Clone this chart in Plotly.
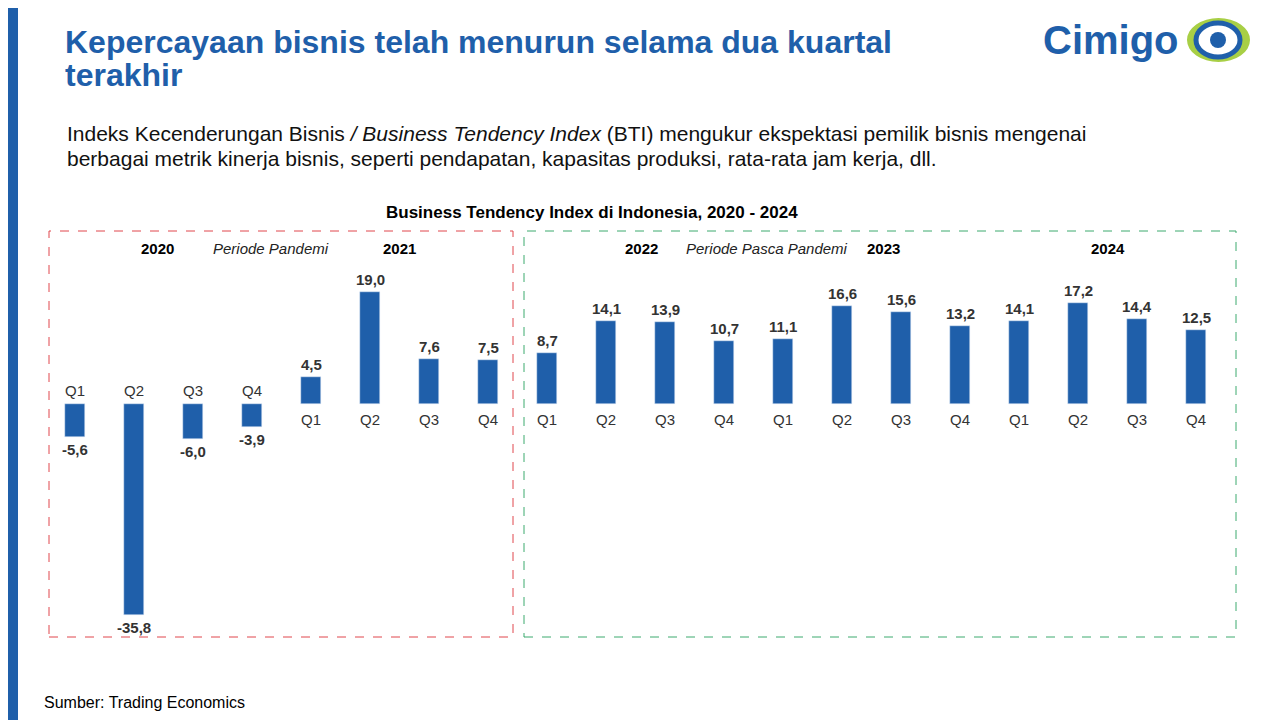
import plotly.graph_objects as go

quarters = ["Q1","Q2","Q3","Q4"]*5
values = [-5.6,-35.8,-6.0,-3.9,4.5,19.0,7.6,7.5,8.7,14.1,13.9,10.7,11.1,16.6,15.6,13.2,14.1,17.2,14.4,12.5]
years = ["2020","2021","2022","2023","2024"]
year_pos = [1.4, 5.5, 9.6, 13.7, 17.5]

BLUE = "#1F5FAA"
W, H = 1280, 720
OFF = 8
def px(x): return (x - OFF) / W
def py(y): return 1 - (y - OFF) / H

X0 = 75 - OFF
Y0 = 404 - OFF
idx = list(range(len(values)))
fig = go.Figure(go.Bar(x=idx, y=values, marker_color=BLUE, width=0.34, hoverinfo="skip"))

F = "Liberation Sans"
ann = []
for i, v in enumerate(values):
    t = "<b>" + f"{v:.1f}".replace(".", ",") + "</b>"
    pos = v >= 0
    ann.append(dict(x=i, y=v, yref="y", xref="x", text=t, yanchor="bottom" if pos else "top",
                    yshift=2 if pos else -2, showarrow=False, font=dict(size=15, color="#333", family=F)))
    ann.append(dict(x=i, y=0, yref="y", xref="x", text=quarters[i], yanchor="top" if pos else "bottom",
                    yshift=-5 if pos else 3, showarrow=False, font=dict(size=15, color="#333", family=F)))

def txt(x, y, s, size, color="#000", xanchor="left"):
    ann.append(dict(x=px(x), y=py(y), xref="paper", yref="paper", text=s, showarrow=False,
                    xanchor=xanchor, yanchor="middle", align="left",
                    font=dict(size=size, color=color, family=F)))

txt(63, 42, "<b>Kepercayaan bisnis telah menurun selama dua kuartal</b>", 32, BLUE)
txt(63, 75, "<b>terakhir</b>", 32, BLUE)
txt(65, 133, "Indeks Kecenderungan Bisnis <i>/ Business Tendency Index</i> (BTI) mengukur ekspektasi pemilik bisnis mengenai", 21, "#111")
txt(65, 158, "berbagai metrik kinerja bisnis, seperti pendapatan, kapasitas produksi, rata-rata jam kerja, dll.", 21, "#111")
txt(592, 212, "<b>Business Tendency Index di Indonesia, 2020 - 2024</b>", 17, "#000", xanchor="center")
for yr, p in zip(years, year_pos):
    txt(75 + 59 * p, 249, "<b>" + yr + "</b>", 15, "#000", xanchor="center")
txt(271, 249, "<i>Periode Pandemi</i>", 15, "#222", xanchor="center")
txt(767, 249, "<i>Periode Pasca Pandemi</i>", 15, "#222", xanchor="center")
txt(42, 702, "Sumber: Trading Economics", 16, "#000")
txt(1041, 40, "<b>Cimigo</b>", 40, BLUE)

shapes = [
    dict(type="rect", xref="paper", yref="paper", x0=0, x1=px(18), y0=0, y1=1, fillcolor=BLUE, line_width=0),
    dict(type="rect", xref="paper", yref="paper", x0=px(49), x1=px(513), y0=py(637), y1=py(231),
         line=dict(color="#E0474C", width=1, dash="dash")),
    dict(type="rect", xref="paper", yref="paper", x0=px(524), x1=px(1236), y0=py(637), y1=py(231),
         line=dict(color="#3DAA6E", width=1, dash="dash")),
    dict(type="circle", xref="paper", yref="paper", x0=px(1187), x1=px(1250), y0=py(62), y1=py(18),
         fillcolor="#A8CF45", line_width=0),
    dict(type="circle", xref="paper", yref="paper", x0=px(1196), x1=px(1240), y0=py(57), y1=py(23),
         fillcolor="white", line=dict(color=BLUE, width=5)),
    dict(type="circle", xref="paper", yref="paper", x0=px(1210), x1=px(1226), y0=py(48), y1=py(32),
         fillcolor=BLUE, line_width=0),
]

fig.update_layout(
    width=W, height=H, margin=dict(l=0, r=0, t=0, b=0),
    paper_bgcolor="white", plot_bgcolor="white", showlegend=False,
    xaxis=dict(range=[-X0/59, (W-X0)/59], visible=False, fixedrange=True),
    yaxis=dict(range=[-(H-Y0)/5.9, Y0/5.9], visible=False, fixedrange=True),
    annotations=ann, shapes=shapes, bargap=0,
)
fig.write_html("out.html")
